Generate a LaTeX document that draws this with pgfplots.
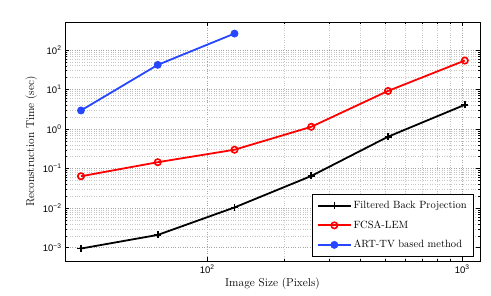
\documentclass[border=0pt]{standalone}
\usepackage{fontspec}
\usepackage{pgfplots}
\pgfplotsset{compat=1.18}
\newfontfamily\tickfont{Liberation Sans}
\definecolor{artblue}{RGB}{38,70,255}
\newcommand{\tp}[1]{10\textsuperscript{#1}}
\begin{document}
\begin{tikzpicture}
\begin{axis}[
  scale only axis,
  width=415pt, height=239pt,
  xmode=log, ymode=log,
  xmin=27.7, xmax=1175,
  ymin=4.6e-4, ymax=510,
  xtick={100,1000},
  xticklabels={\tp{2},\tp{3}},
  ytick={1e-3,1e-2,1e-1,1,10,100},
  yticklabels={\tp{−3},\tp{−2},\tp{−1},\tp{0},\tp{1},\tp{2}},
  grid=both,
  major grid style={dotted, gray!70, line width=0.45pt},
  minor grid style={dotted, gray!45, line width=0.45pt},
  tick style={black, line width=0.4pt},
  major tick length=4pt, minor tick length=2pt,
  axis line style={black, line width=0.6pt},
  tick align=inside,
  ticklabel style={font=\tickfont\fontsize{9.5}{10}\selectfont},
  label style={font=\fontsize{11.5}{13}\selectfont},
  xlabel={Image Size (Pixels)},
  ylabel={Reconstruction Time (sec)},
  xlabel style={yshift=2pt},
  ylabel style={yshift=-1pt},
  legend style={at={(0.9855,0.018)}, anchor=south east, draw=black, line width=0.6pt,
    font=\fontsize{10.5}{12}\selectfont, cells={anchor=west}, row sep=6.5pt,
    inner xsep=5pt, inner ysep=5pt},
  legend cell align=left,
  legend image post style={line width=1.8pt},
  legend image code/.code={\draw[#1] (0cm,0cm) -- (1.15cm,0cm); \draw[#1,mark repeat=2,mark phase=2] plot coordinates {(0cm,0cm) (0.575cm,0cm) (1.15cm,0cm)};},
]
\addplot[black, line width=1.8pt, mark=+, mark size=3.5pt, mark options={line width=1.6pt}]
  coordinates {(32,0.00095) (64,0.0021) (128,0.0104) (256,0.065) (512,0.64) (1024,4.1)};
\addlegendentry{Filtered Back Projection\hspace{6pt}}
\addplot[red, line width=1.8pt, mark=o, mark size=3.2pt, mark options={line width=1.6pt}]
  coordinates {(32,0.064) (64,0.145) (128,0.30) (256,1.14) (512,9.2) (1024,54)};
\addlegendentry{FCSA-LEM}
\addplot[artblue, line width=1.8pt, mark=*, mark size=3pt]
  coordinates {(32,2.95) (64,42) (128,260)};
\addlegendentry{ART-TV based method}
\end{axis}
\path ([xshift=-65pt,yshift=-35pt]current axis.south west) rectangle ([xshift=11pt,yshift=22pt]current axis.north east);
\end{tikzpicture}
\end{document}
